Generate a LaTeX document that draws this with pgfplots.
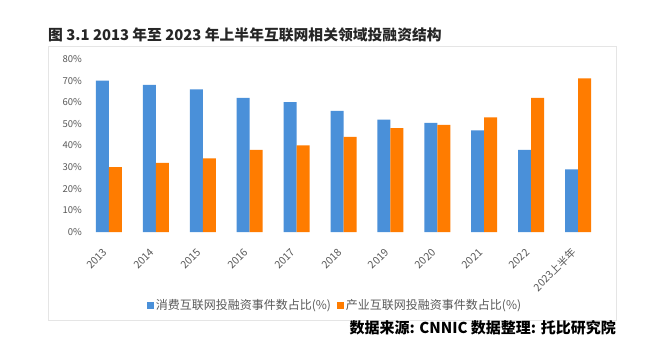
\documentclass[border=0pt]{standalone}
\usepackage{pgfplots}
\pgfplotsset{compat=1.18}
\usepackage{fontspec}
\setmainfont{Noto Sans CJK SC}
\definecolor{cblue}{RGB}{74,144,217}
\definecolor{corange}{RGB}{255,124,0}
\definecolor{tgray}{RGB}{89,89,89}
\begin{document}
\begin{tikzpicture}
\path[use as bounding box,fill=white] (0pt,0pt) rectangle (660pt,353pt);
\draw[gray!20,line width=0.8pt] (48pt,33pt) rectangle (616pt,307pt);
\node[anchor=west,font=\fontsize{14.8}{16}\selectfont\bfseries,text=black!85,inner sep=0pt] at (48pt,318pt) {图 3.1 2013 年至 2023 年上半年互联网相关领域投融资结构};
\node[anchor=east,font=\fontsize{15}{17}\selectfont\bfseries,text=black,inner sep=0pt] at (616pt,25pt) {数据来源: CNNIC 数据整理: 托比研究院};
\begin{axis}[
  at={(85.5pt,121pt)}, anchor=south west,
  scale only axis, width=516pt, height=173pt,
  xmin=-0.5, xmax=10.5, ymin=0, ymax=80,
  ybar=0pt, bar width=13pt,
  axis line style={draw=none},
  tick style={draw=none},
  xtick={0,...,10},
  xticklabels={2013,2014,2015,2016,2017,2018,2019,2020,2021,2022,2023上半年},
  xticklabel style={xshift=-3.5pt, yshift=-14pt, rotate=45, anchor=east, font=\fontsize{10.5}{12}\selectfont, text=tgray, inner sep=0pt},
  ytick={0,10,...,80},
  yticklabel={\pgfmathprintnumber{\tick}\%},
  yticklabel style={font=\fontsize{9.5}{11}\selectfont, text=tgray},
  /pgf/number format/assume math mode=true,
  legend style={at={(0.4835,-0.422)}, anchor=center, draw=none, fill=none,
    legend columns=2, font=\fontsize{12}{14}\selectfont, text=tgray,
    /tikz/every even column/.append style={column sep=4pt}},
  legend cell align=left,
  legend image code/.code={\fill[#1] (0pt,-3.5pt) rectangle (7pt,3.5pt);},
]
\addplot[fill=cblue, draw=none] coordinates {(0,70) (1,68) (2,66) (3,62) (4,60) (5,56) (6,52) (7,50.5) (8,47) (9,38) (10,29)};
\addplot[fill=corange, draw=none] coordinates {(0,30) (1,32) (2,34) (3,38) (4,40) (5,44) (6,48) (7,49.5) (8,53) (9,62) (10,71)};
\legend{消费互联网投融资事件数占比(\%),产业互联网投融资事件数占比(\%)}
\end{axis}
\end{tikzpicture}
\end{document}
